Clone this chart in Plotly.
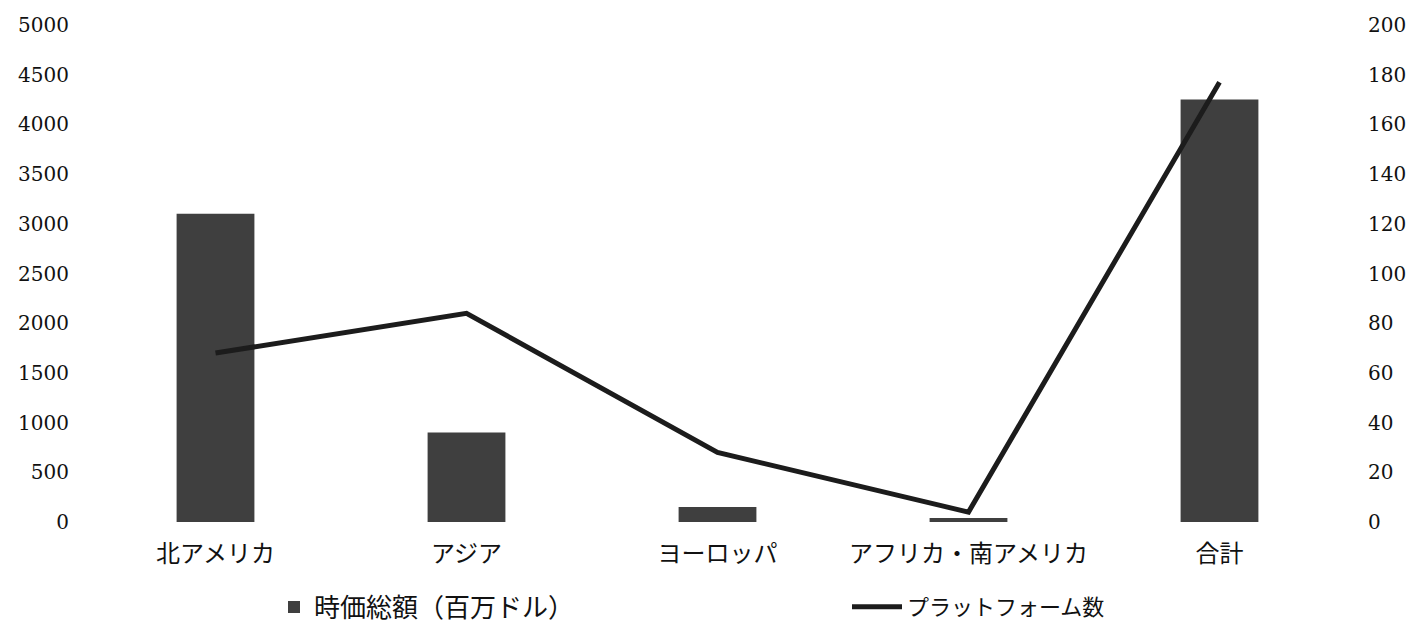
import plotly.graph_objects as go

categories = ["北アメリカ", "アジア", "ヨーロッパ", "アフリカ・南アメリカ", "合計"]
market_cap = [3100, 900, 150, 40, 4250]
platforms = [68, 84, 28, 4, 177]

bar_name = "時価総額（百万ドル）"
line_name = "プラットフォーム数"

cjk = "Noto Sans CJK JP"
serif = "DejaVu Serif"

fig = go.Figure()
fig.add_trace(go.Bar(
    x=categories, y=market_cap, name=bar_name,
    marker=dict(color="#3f3f3f", line=dict(width=0)),
    yaxis="y", legend="legend",
))
fig.add_trace(go.Scatter(
    x=categories, y=platforms, name=line_name, mode="lines",
    line=dict(color="#1c1c1c", width=5),
    yaxis="y2", legend="legend2",
))

fig.update_layout(
    width=1415, height=625,
    margin=dict(l=90, r=70, t=25, b=103, autoexpand=False),
    paper_bgcolor="white", plot_bgcolor="white",
    bargap=0.69,
    showlegend=True,
    legend=dict(
        xref="container", yref="container",
        x=274 / 1415, xanchor="left", y=(625 - 607) / 625, yanchor="middle",
        font=dict(family=cjk, size=26, color="#111"),
        bgcolor="rgba(0,0,0,0)",
    ),
    legend2=dict(
        xref="container", yref="container",
        x=847 / 1415, xanchor="left", y=(625 - 607) / 625, yanchor="middle",
        font=dict(family=cjk, size=22, color="#111"),
        bgcolor="rgba(0,0,0,0)",
        itemwidth=50,
    ),
    xaxis=dict(
        showgrid=False, showline=False, zeroline=False, ticks="",
        tickfont=dict(family=cjk, size=24, color="#111"),
        ticklabelstandoff=15,
    ),
    yaxis=dict(
        range=[0, 5000], dtick=500, showgrid=False, showline=False, zeroline=False,
        tickfont=dict(family=serif, size=20, color="#111"),
        ticklabelstandoff=20,
    ),
    yaxis2=dict(
        range=[0, 200], dtick=20, overlaying="y", side="right",
        showgrid=False, showline=False, zeroline=False,
        tickfont=dict(family=serif, size=20, color="#111"),
        ticklabelstandoff=22,
    ),
)

fig.write_html("out.html")
